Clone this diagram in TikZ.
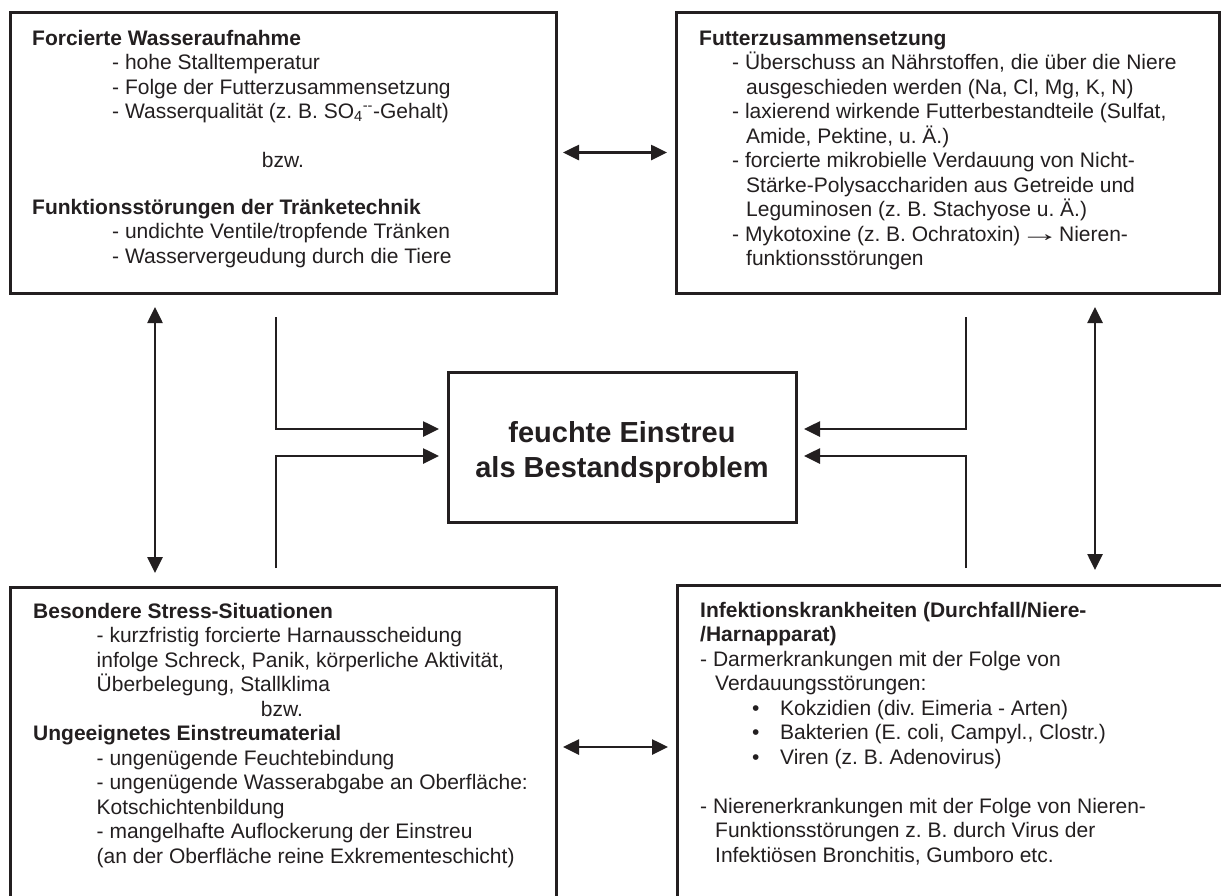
\documentclass[tikz,border=0pt]{standalone}
\usepackage{fontspec}
\usepackage{graphicx}
\setmainfont{Liberation Sans}
\usetikzlibrary{arrows.meta}
\definecolor{ink}{RGB}{35,31,32}
\newcommand\myarrow{\makebox[27pt]{\scalebox{1.9}[1.1]{→}}}
\frenchspacing
\begin{document}
\begin{tikzpicture}[x=1pt,y=-1pt,
  box/.style={draw=ink,line width=3pt,rectangle,inner sep=0pt,outer sep=0pt,anchor=north west},
  con/.style={draw=ink,line width=2.6pt},
  arr/.style={con,-{Triangle[length=16pt,width=15pt]}},
  dbl/.style={con,{Triangle[length=16pt,width=15pt]}-{Triangle[length=16pt,width=15pt]}},
  t/.style={anchor=base west,inner sep=0pt,text=ink,font=\fontsize{21}{24.5}\selectfont},
  tc/.style={t,anchor=base},
  big/.style={anchor=base,inner sep=0pt,text=ink,font=\fontsize{29}{35}\selectfont\bfseries},
]
\clip (0,0) rectangle (1221,895);
\fill[white] (0,0) rectangle (1221,895);

% boxes
\node[box,minimum width=546pt,minimum height=281pt] (tl) at (10,12) {};
\node[box,minimum width=543pt,minimum height=281pt] (tr) at (676,12) {};
\node[box,minimum width=546pt,minimum height=320pt] (bl) at (10,587) {};
\node[box,minimum width=560pt,minimum height=324pt] (br) at (677,585) {};
\node[box,minimum width=348pt,minimum height=150pt] (c) at (448,372) {};

% centre text
\node[big] (c1) at (622,442) {feuchte Einstreu};
\node[big] (c2) at (622,477) {als Bestandsproblem};

% top left text
\node[t] (a1) at (32,45) {\textbf{Forcierte Wasseraufnahme}};
\node[t] (a2) at (112,69.5) {- hohe Stalltemperatur};
\node[t] (a3) at (112,94) {- Folge der Futterzusammensetzung};
\node[t] (a4) at (112,118.5) {- Wasserqualität (z. B. SO\textsubscript{4}\textsuperscript{-{}-}-Gehalt)};
\node[tc] (a5) at (283,167) {bzw.};
\node[t] (a6) at (32,214) {\textbf{Funktionsstörungen der Tränketechnik}};
\node[t] (a7) at (112,238.5) {- undichte Ventile/tropfende Tränken};
\node[t] (a8) at (112,263) {- Wasservergeudung durch die Tiere};

% top right text
\node[t] (b1) at (699,45) {\textbf{Futterzusammensetzung}};
\node[t] (b2) at (732,69.5) {- Überschuss an Nährstoffen, die über die Niere};
\node[t] (b3) at (746,94) {ausgeschieden werden (Na, Cl, Mg, K, N)};
\node[t] (b4) at (732,118.5) {- laxierend wirkende Futterbestandteile (Sulfat,};
\node[t] (b5) at (746,143) {Amide, Pektine, u. Ä.)};
\node[t] (b6) at (732,167.5) {- forcierte mikrobielle Verdauung von Nicht-};
\node[t] (b7) at (746,192) {Stärke-Polysacchariden aus Getreide und};
\node[t] (b8) at (746,216.5) {Leguminosen (z. B. Stachyose u. Ä.)};
\node[t] (b9) at (732,241) {- Mykotoxine (z. B. Ochratoxin)\ \myarrow\ Nieren-};
\node[t] (b10) at (746,265.5) {funktionsstörungen};

% bottom left text
\node[t] (d1) at (33,618) {\textbf{Besondere Stress-Situationen}};
\node[t] (d2) at (96.5,642.5) {- kurzfristig forcierte Harnausscheidung};
\node[t] (d3) at (96.5,667) {infolge Schreck, Panik, körperliche Aktivität,};
\node[t] (d4) at (96.5,691.5) {Überbelegung, Stallklima};
\node[tc] (d5) at (282,716) {bzw.};
\node[t] (d6) at (33,740.5) {\textbf{Ungeeignetes Einstreumaterial}};
\node[t] (d7) at (96.5,765) {- ungenügende Feuchtebindung};
\node[t] (d8) at (96.5,789.5) {- ungenügende Wasserabgabe an Oberfläche:};
\node[t] (d9) at (96.5,814) {Kotschichtenbildung};
\node[t] (d10) at (96.5,838.5) {- mangelhafte Auflockerung der Einstreu};
\node[t] (d11) at (96.5,863) {(an der Oberfläche reine Exkrementeschicht)};

% bottom right text
\node[t] (e1) at (700,617) {\textbf{Infektionskrankheiten (Durchfall/Niere-}};
\node[t] (e2) at (700,641.5) {\textbf{/Harnapparat)}};
\node[t] (e3) at (700,666) {- Darmerkrankungen mit der Folge von};
\node[t] (e4) at (715,690.5) {Verdauungsstörungen:};
\node[t] (e5) at (752,715) {\textbullet};
\node[t] (e6) at (780,715) {Kokzidien (div. Eimeria - Arten)};
\node[t] (e7) at (752,739.5) {\textbullet};
\node[t] (e8) at (780,739.5) {Bakterien (E. coli, Campyl., Clostr.)};
\node[t] (e9) at (752,764) {\textbullet};
\node[t] (e10) at (780,764) {Viren (z. B. Adenovirus)};
\node[t] (e11) at (700,813) {- Nierenerkrankungen mit der Folge von Nieren-};
\node[t] (e12) at (715,837.5) {Funktionsstörungen z. B. durch Virus der};
\node[t] (e13) at (715,862) {Infektiösen Bronchitis, Gumboro etc.};

% double arrows between boxes
\draw[dbl,shorten <=7pt,shorten >=9pt] (tl.east) -- (tr.west);
\draw[dbl,shorten <=7pt,shorten >=9pt] (bl.east) -- (br.west);
\draw[dbl,shorten <=14pt,shorten >=14pt] ([xshift=145pt]tl.south west) -- ([xshift=145pt]bl.north west);
\draw[dbl,shorten <=14pt,shorten >=15pt] ([xshift=-124pt]tr.south east) -- ([xshift=418pt]br.north west);

% elbow connectors into the centre box
\coordinate (l1) at (276,317);
\coordinate (l2) at (276,568);
\coordinate (r1) at (966,317);
\coordinate (r2) at (966,568);
\draw[arr,shorten >=9pt] (l1) |- ([yshift=18pt]c.west);
\draw[arr,shorten >=9pt] (l2) |- ([yshift=-9pt]c.west);
\draw[arr,shorten >=8pt] (r1) |- ([yshift=18pt]c.east);
\draw[arr,shorten >=8pt] (r2) |- ([yshift=-9pt]c.east);
\end{tikzpicture}
\end{document}
